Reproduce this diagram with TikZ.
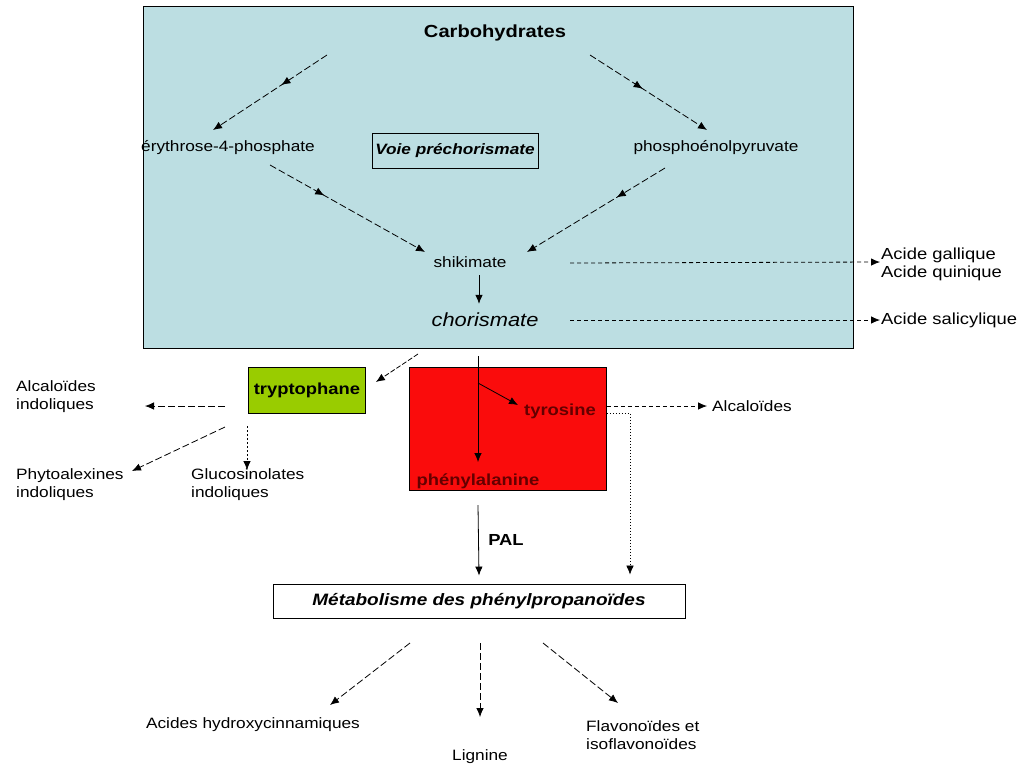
\documentclass[tikz,border=0pt]{standalone}
\usepackage{fontspec}
\setmainfont[FakeStretch=1.15]{Liberation Sans}
\usetikzlibrary{arrows.meta,decorations.markings}
\definecolor{voiebleu}{RGB}{188,222,226}
\definecolor{trpvert}{RGB}{153,204,0}
\definecolor{arorouge}{RGB}{250,12,12}
\definecolor{tyrbrun}{RGB}{100,0,0}
\tikzset{
  txt/.style={font=\fontsize{15}{18}\selectfont, inner sep=1pt},
  bld/.style={font=\fontsize{16}{18}\selectfont\bfseries, inner sep=1pt},
  hd/.style={-{Latex[length=9pt,width=7.5pt]}, line width=0.8pt},
  longdash/.style={hd, dash pattern=on 7pt off 3pt},
  shortdash/.style={hd, dash pattern=on 4pt off 3pt},
  dotline/.style={hd, dash pattern=on 2pt off 2pt},
  midhead/.style={postaction={decorate},
    decoration={markings,mark=at position #1 with {\arrow{Latex[length=9pt,width=7.5pt]}}}},
}
\begin{document}
\begin{tikzpicture}[x=1pt,y=-1pt]
\useasboundingbox (0,0) rectangle (1035,772);
% zone de la voie prechorismate
\draw[fill=voiebleu, line width=0.8pt] (143,6) rectangle (853,348);
\node[bld, font=\fontsize{17.5}{20}\selectfont\bfseries] (carb) at (495,33) {Carbohydrates};
\node[txt] (ery) at (228,148) {érythrose-4-phosphate};
\node[draw, line width=0.8pt, minimum width=163, minimum height=35,
  font=\fontsize{15}{18}\selectfont\bfseries\itshape] (voie) at (455,151) {Voie préchorismate};
\node[txt] (pep) at (716,148) {phosphoénolpyruvate};
\node[txt] (shik) at (470,262) {shikimate};
\node[font=\fontsize{19}{22}\selectfont\itshape, inner sep=1pt] (chor) at (485,320) {chorismate};
\node[txt, anchor=west, align=left, font=\fontsize{16}{18}\selectfont] (gal) at (880,264) {Acide gallique\\Acide quinique};
\node[txt, anchor=west, font=\fontsize{16}{18}\selectfont] (sal) at (880,320) {Acide salicylique};
% acides amines
\node[draw, fill=trpvert, line width=0.8pt, minimum width=117, minimum height=46, bld] (trp) at (307,390) {tryptophane};
\node[draw, fill=arorouge, line width=0.8pt, minimum width=197, minimum height=123] (aro) at (508,429) {};
\node[bld, text=tyrbrun] (tyr) at (560,411) {tyrosine};
\node[bld, text=tyrbrun] (phe) at (478,481) {phénylalanine};
\node[txt] (alc) at (752,406) {Alcaloïdes};
\node[txt, anchor=west, align=left] (alcind) at (15,397) {Alcaloïdes\\indoliques};
\node[txt, anchor=west, align=left] (phyt) at (15,485) {Phytoalexines\\indoliques};
\node[txt, anchor=west, align=left] (gluc) at (190,485) {Glucosinolates\\indoliques};
% phenylpropanoides
\node[bld] (pal) at (506,540) {PAL};
\node[draw, line width=0.8pt, minimum width=412, minimum height=34,
  font=\fontsize{16.5}{18}\selectfont\bfseries\itshape] (meta) at (479,601) {Métabolisme des phénylpropanoïdes};
\node[txt] (hyd) at (253,725) {Acides hydroxycinnamiques};
\node[txt] (lig) at (480,757) {Lignine};
\node[txt, anchor=west, align=left] (flav) at (585,735) {Flavonoïdes et\\isoflavonoïdes};

\begin{scope}[longdash]
  \draw[midhead=0.4] ([shift={(-168,22)}]carb.center) -- ([shift={(-15,-18)}]ery.center);
  \draw[midhead=0.45] ([shift={(95,22)}]carb.center) -- ([shift={(-9,-18)}]pep.center);
  \draw[midhead=0.35] ([shift={(42,17)}]ery.center) -- ([shift={(-45,-10)}]shik.center);
  \draw[midhead=0.35] ([shift={(-51,20)}]pep.center) -- ([shift={(57,-10)}]shik.center);
  \draw ([shift={(-82,16)}]trp.center) -- ([shift={(130,9)}]alcind.west);
  \draw ([shift={(-82,37)}]trp.center) -- ([shift={(117,-14)}]phyt.west);
\end{scope}
\draw[hd] ([shift={(9,13)}]shik.center) -- ([shift={(9,-8)}]shik.center |- chor.north);
\draw[shortdash] ([shift={(100,1)}]shik.center) -- (gal.west |- shik.center);
\draw[shortdash] ([shift={(85,0)}]chor.center) -- (sal.west);
\draw[hd, dash pattern=on 5pt off 2pt] ([shift={(-67,34)}]chor.center) -- ([shift={(10,-8)}]trp.east);
\draw[dotline] ([shift={(-60,36)}]trp.center) -- ([shift={(57,-15)}]gluc.west);
% dans la boite rouge
\draw[hd] ([shift={(-7,36)}]chor.center) -- ([yshift=19]phe.center);
\draw[hd] ([shift={(-7,63)}]chor.center) -- ([shift={(-42,-6)}]tyr.center);
\draw[shortdash] ([yshift=5]aro.east |- tyr.center) -- ([xshift=-4]alc.west);
\draw[hd, line width=0.6pt, dash pattern=on 1.5pt off 1.5pt] ([yshift=-2]aro.east |- tyr.center)
  -| ([xshift=151,yshift=9]meta.north);
\draw[hd] ([yshift=-24]phe.center) -- ([yshift=8]meta.north);
\begin{scope}[longdash]
  \draw ([shift={(-69,42)}]meta.center) -- ([shift={(77,-20)}]hyd.center);
  \draw ([shift={(1,42)}]meta.center) -- ([yshift=40]lig.center);
  \draw ([shift={(64,42)}]meta.center) -- ([shift={(33,-32)}]flav.west);
\end{scope}
\end{tikzpicture}
\end{document}
